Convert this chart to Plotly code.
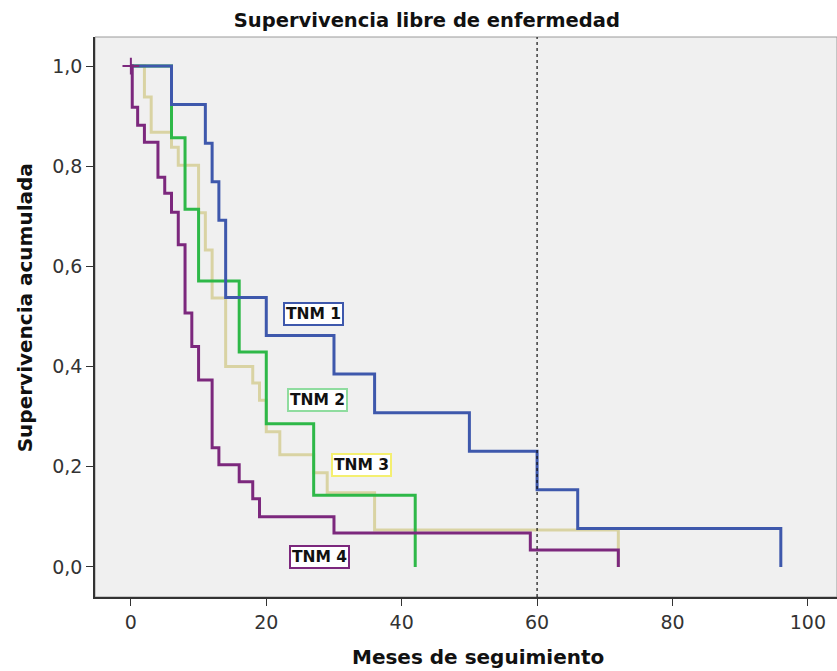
import plotly.graph_objects as go

# ---- data ----
groups = ["TNM 1", "TNM 2", "TNM 3", "TNM 4"]

t_tnm1 = [0, 6, 11, 12, 13, 14, 20, 30, 36, 50, 60, 66, 96]
s_tnm1 = [1.0, 0.923, 0.846, 0.769, 0.692, 0.538, 0.462, 0.385, 0.308, 0.231, 0.154, 0.077, 0.0]

t_tnm2 = [0, 6, 8, 10, 16, 20, 27, 42]
s_tnm2 = [1.0, 0.857, 0.714, 0.571, 0.429, 0.286, 0.143, 0.0]

t_tnm3 = [0, 2, 3, 6, 7, 10, 11, 12, 14, 18, 19, 20, 22, 27, 29, 36, 72]
s_tnm3 = [1.0, 0.938, 0.868, 0.838, 0.802, 0.707, 0.633, 0.537, 0.40, 0.367, 0.333,
          0.27, 0.224, 0.188, 0.148, 0.074, 0.0]

t_tnm4 = [0, 0.2, 1, 2, 4, 5, 6, 7, 8, 9, 10, 12, 13, 16, 18, 19, 30, 59, 72]
s_tnm4 = [1.0, 0.918, 0.882, 0.848, 0.778, 0.746, 0.708, 0.643, 0.507, 0.44, 0.373,
          0.238, 0.204, 0.17, 0.136, 0.10, 0.068, 0.034, 0.0]

label_x = [27.0, 27.5, 34.1, 27.9]
label_y = [0.505, 0.333, 0.204, 0.02]

x_ticks = [0, 20, 40, 60, 80, 100]
y_ticks = [0.0, 0.2, 0.4, 0.6, 0.8, 1.0]
y_ticktext = ["0,0", "0,2", "0,4", "0,6", "0,8", "1,0"]
ref_line_x = 60

title_text = "Supervivencia libre de enfermedad"
x_title = "Meses de seguimiento"
y_title = "Supervivencia acumulada"

colors = {"TNM 1": "#3e58ac", "TNM 2": "#2eb848", "TNM 3": "#d9d3a3", "TNM 4": "#7c287d"}
label_borders = {"TNM 1": "#3e58ac", "TNM 2": "#8fdc9f", "TNM 3": "#f4ef70", "TNM 4": "#7c287d"}

series = {
    "TNM 1": (t_tnm1, s_tnm1),
    "TNM 2": (t_tnm2, s_tnm2),
    "TNM 3": (t_tnm3, s_tnm3),
    "TNM 4": (t_tnm4, s_tnm4),
}

FONT = "DejaVu Sans"

fig = go.Figure()
for g in ["TNM 3", "TNM 2", "TNM 1", "TNM 4"]:
    t, s = series[g]
    fig.add_trace(go.Scatter(x=t, y=s, mode="lines", line=dict(shape="hv", color=colors[g], width=3),
                             name=g, showlegend=False, hoverinfo="skip"))

# censor mark at start of TNM 4
fig.add_trace(go.Scatter(x=[t_tnm4[0]], y=[s_tnm4[0]], mode="markers",
                         marker=dict(symbol="cross-thin", size=12, line=dict(color=colors["TNM 4"], width=2)),
                         showlegend=False, hoverinfo="skip"))

# reference dotted line at 60 months
fig.add_shape(type="line", x0=ref_line_x, x1=ref_line_x, y0=0, y1=1, xref="x", yref="paper",
              line=dict(color="#111111", width=1.2, dash="dot"))

# group labels
for g, lx, ly in zip(groups, label_x, label_y):
    fig.add_annotation(x=lx, y=ly, text="<b>" + g + "</b>", showarrow=False,
                       font=dict(family=FONT, size=15.5, color="#111111"),
                       bgcolor="white", bordercolor=label_borders[g],
                       borderwidth=2, borderpad=1)

# axis titles as annotations (precise placement)
fig.add_annotation(x=0.516, y=-0.107, xref="paper", yref="paper", text="<b>" + x_title + "</b>",
                   showarrow=False, xanchor="center", yanchor="middle",
                   font=dict(family=FONT, size=20, color="#111"))
fig.add_annotation(x=-0.094, y=0.516, xref="paper", yref="paper", text="<b>" + y_title + "</b>",
                   showarrow=False, xanchor="center", yanchor="middle", textangle=-90,
                   font=dict(family=FONT, size=20, color="#111"))

fig.update_layout(
    width=837, height=671,
    margin=dict(l=95, r=0, t=37, b=74),
    paper_bgcolor="white",
    plot_bgcolor="#f0f0f0",
    title=dict(text="<b>" + title_text + "</b>", x=0.51, xanchor="center",
               y=0.970, yanchor="middle",
               font=dict(family=FONT, size=19.5, color="#111111")),
    xaxis=dict(range=[-5.3, 104.3], tickvals=x_ticks, ticks="outside", ticklen=7, tickcolor="#333",
               showgrid=False, zeroline=False, showline=True, linecolor="#333", linewidth=1.5,
               mirror=False,
               tickfont=dict(family=FONT, size=19, color="#333")),
    yaxis=dict(range=[-0.06, 1.058], tickvals=y_ticks, ticktext=y_ticktext, ticks="outside", ticklen=7,
               tickcolor="#333", showgrid=False, zeroline=False, showline=True, linecolor="#333",
               linewidth=1.5,
               tickfont=dict(family=FONT, size=19, color="#333")),
)

# light frame on top/right
fig.add_shape(type="rect", x0=0, x1=1, y0=0, y1=1, xref="paper", yref="paper",
              line=dict(color="#9a9a9a", width=1), layer="below")

fig.write_html("out.html")
